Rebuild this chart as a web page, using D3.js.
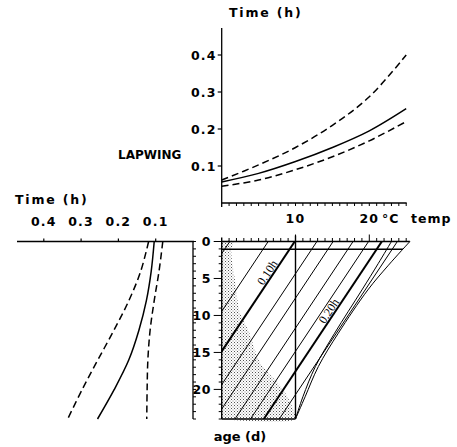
<!DOCTYPE html>
<html><head><meta charset="utf-8">
<script src="https://cdn.jsdelivr.net/npm/d3@7"></script>
<style>
html,body{margin:0;padding:0;background:#fff;}
svg{display:block;}
.lab{font-family:"DejaVu Sans",sans-serif;font-weight:bold;font-size:12.5px;fill:#000;}
.ser{font-family:"Liberation Serif",serif;font-size:12px;fill:#000;}
</style></head>
<body>
<svg id="c" width="457" height="447"></svg>
<script>
// ---- Data ----
// Upper panel: time (h) vs temperature (°C)
const topTemps = [0, 5, 10, 15, 20, 25];
const topUpper = [0.062, 0.103, 0.150, 0.210, 0.287, 0.400];
const topSolid = [0.057, 0.080, 0.112, 0.150, 0.195, 0.255];
const topLower = [0.045, 0.062, 0.090, 0.125, 0.168, 0.220];
const topYTicks = [0.1, 0.2, 0.3, 0.4];

// Left panel: time (h) vs age (d)
const leftAges  = [0, 4, 8, 12, 16, 20, 24];
const leftOuter = [0.119, 0.140, 0.172, 0.212, 0.255, 0.297, 0.336];
const leftSolid = [0.104, 0.112, 0.125, 0.145, 0.172, 0.211, 0.256];
const leftInner = [0.081, 0.091, 0.104, 0.115, 0.121, 0.123, 0.124];
const leftXTicks = [0.4, 0.3, 0.2, 0.1];
const ageTicks = [0, 5, 10, 15, 20];

// Nomogram: isolines of time, given by temperature where they meet age 0
const isoTemp0 = [1.1, 6.3, 9.9, 12.9, 15.1, 17.8, 19.9, 21.7, 23.8];
const isoTime  = [0.06, 0.08, 0.10, 0.12, 0.14, 0.16, 0.18, 0.20, 0.22];
const isoSlope = 1.5; // days of age per °C
const labelledIso = [0.10, 0.20];
// boundary curves [temp, age]
const outerCurve = [[25.5,0],[22.6,3.2],[19.8,6.55],[15.8,12.4],[13.1,16.9],[11.3,21.0],[10,24]];
const innerCurve = [[23.0,0],[21.2,3.0],[19.0,6.55],[15.3,12.4],[12.7,16.9],[11.0,21.0],[10,24]];
// stippled area [temp, age]
const stipple = [[0,0],[1.6,0],[1.3,1.1],[1.8,5.2],[2.5,9.7],[3.6,12],[5.2,16.4],[6.8,18.3],[8.3,20],[9.7,22.7],[10,24],[0,24]];

// ---- Scales ----
const svg = d3.select("#c");
const tempX = d3.scaleLinear().domain([0,25]).range([221.7,406.2]);
const timeY = d3.scaleLinear().domain([0,0.4]).range([203,55]);
const ageY  = d3.scaleLinear().domain([0,24]).range([241.5,419]);
const timeX = d3.scaleLinear().domain([0,0.4]).range([193,43.8]);

const stroke = (s,w)=>s.attr("stroke","#000").attr("stroke-width",w).attr("fill","none");

// ---- Upper panel ----
const up = svg.append("g");
stroke(up.append("line").attr("x1",tempX(0)).attr("x2",tempX(0)).attr("y1",28).attr("y2",timeY(0)+4),1.3);
stroke(up.append("line").attr("x1",tempX(0)).attr("x2",tempX(25)+0.5).attr("y1",timeY(0)).attr("y2",timeY(0)),1.3);
topYTicks.forEach(v=>{
  stroke(up.append("line").attr("x1",tempX(0)-4).attr("x2",tempX(0)).attr("y1",timeY(v)).attr("y2",timeY(v)),1.2);
  up.append("text").attr("class","lab").attr("x",tempX(0)-5).attr("y",timeY(v)+4.5)
    .attr("text-anchor","end").style("letter-spacing","1.2px").text(v.toFixed(1));
});
d3.range(1,26).forEach(t=>{
  stroke(up.append("line").attr("x1",tempX(t)).attr("x2",tempX(t)).attr("y1",timeY(0)).attr("y2",timeY(0)+3),1);
});
up.append("text").attr("class","lab").attr("x",tempX(10)).attr("y",223).attr("text-anchor","middle").style("letter-spacing","1.2px").text("10");
up.append("text").attr("class","lab").attr("x",tempX(20)).attr("y",223).attr("text-anchor","middle").style("letter-spacing","1.2px").text("20");
up.append("text").attr("class","lab").attr("x",382).attr("y",223).style("letter-spacing","1px").text("°C");
up.append("text").attr("class","lab").attr("x",411).attr("y",223).style("letter-spacing","1px").text("temp");
up.append("text").attr("class","lab").attr("x",229).attr("y",17).style("letter-spacing","1.8px").text("Time (h)");
up.append("text").attr("class","lab").attr("x",118).attr("y",159).style("font-size","12px").text("LAPWING");

const lineT = d3.line().x(d=>tempX(d[0])).y(d=>timeY(d[1])).curve(d3.curveCatmullRom);
[[topUpper,"7,4"],[topSolid,null],[topLower,"7,4"]].forEach(([arr,dash])=>{
  const p = stroke(up.append("path").attr("d",lineT(topTemps.map((t,i)=>[t,arr[i]]))),1.5);
  if(dash) p.attr("stroke-dasharray",dash);
});

// ---- Left panel ----
const lp = svg.append("g");
stroke(lp.append("line").attr("x1",17).attr("x2",timeX(0)+1).attr("y1",ageY(0)).attr("y2",ageY(0)),1.3);
leftXTicks.forEach(v=>{
  stroke(lp.append("line").attr("x1",timeX(v)).attr("x2",timeX(v)).attr("y1",ageY(0)-3).attr("y2",ageY(0)),1.2);
  lp.append("text").attr("class","lab").attr("x",timeX(v)).attr("y",226)
    .attr("text-anchor","middle").style("letter-spacing","1.2px").text(v.toFixed(1));
});
lp.append("text").attr("class","lab").attr("x",15).attr("y",204).style("letter-spacing","1.8px").text("Time (h)");
const lineA = d3.line().x(d=>timeX(d[1])).y(d=>ageY(d[0])).curve(d3.curveCatmullRom);
[[leftOuter,"7,4"],[leftSolid,null],[leftInner,"7,4"]].forEach(([arr,dash])=>{
  const p = stroke(lp.append("path").attr("d",lineA(leftAges.map((a,i)=>[a,arr[i]]))),1.5);
  if(dash) p.attr("stroke-dasharray",dash);
});

// ---- Age axis ----
const ax = svg.append("g");
stroke(ax.append("line").attr("x1",timeX(0)).attr("x2",timeX(0)).attr("y1",ageY(0)).attr("y2",ageY(24)),1.3);
d3.range(0,25).forEach(a=>{
  stroke(ax.append("line").attr("x1",timeX(0)).attr("x2",timeX(0)+3).attr("y1",ageY(a)).attr("y2",ageY(a)),1);
  const major = a%5===0;
  stroke(ax.append("line").attr("x1",tempX(0)-(major?8:3)).attr("x2",tempX(0)).attr("y1",ageY(a)).attr("y2",ageY(a)),1);
});
ageTicks.forEach(a=>{
  ax.append("text").attr("class","lab").attr("x",211).attr("y",ageY(a)+4.5)
    .attr("text-anchor","end").style("letter-spacing","0.5px").text(a);
});
ax.append("text").attr("class","lab").attr("x",240).attr("y",441).attr("text-anchor","middle").style("font-size","13px").text("age (d)");

// ---- Nomogram ----
const nm = svg.append("g");
const defs = svg.append("defs");
const pat = defs.append("pattern").attr("id","dots").attr("patternUnits","userSpaceOnUse").attr("width",3).attr("height",3);
pat.append("rect").attr("x",0).attr("y",0).attr("width",1).attr("height",1).attr("fill","#555");
pat.append("rect").attr("x",1.5).attr("y",1.5).attr("width",1).attr("height",1).attr("fill","#888");
const ptLine = d3.line().x(d=>tempX(d[0])).y(d=>ageY(d[1])).curve(d3.curveCatmullRom);
nm.append("path").attr("d",ptLine(stipple)+"Z").attr("fill","url(#dots)");

const curveL = d3.line().x(d=>tempX(d[0])).y(d=>ageY(d[1])).curve(d3.curveCatmullRom);
defs.append("clipPath").attr("id","nclip").append("path")
  .attr("d", "M"+tempX(0)+","+ageY(0)+curveL(outerCurve).replace(/^M/,"L")+"L"+tempX(0)+","+ageY(24)+"Z");

const iso = nm.append("g").attr("clip-path","url(#nclip)");
isoTemp0.forEach((t0,i)=>{
  const thick = labelledIso.some(v=>Math.abs(v-isoTime[i])<1e-6);
  stroke(iso.append("line").attr("x1",tempX(t0)).attr("y1",ageY(0))
    .attr("x2",tempX(t0-24/isoSlope)).attr("y2",ageY(24)),thick?2:1);
});
stroke(iso.append("line").attr("x1",tempX(0)).attr("x2",tempX(26)).attr("y1",ageY(1.05)).attr("y2",ageY(1.05)),1.3);
stroke(nm.append("path").attr("d",curveL(outerCurve)),1);
stroke(nm.append("path").attr("d",curveL(innerCurve)),1);
stroke(nm.append("line").attr("x1",tempX(0)).attr("x2",tempX(25.5)).attr("y1",ageY(0)).attr("y2",ageY(0)),1.4);
stroke(nm.append("line").attr("x1",tempX(0)).attr("x2",tempX(10)).attr("y1",ageY(24)).attr("y2",ageY(24)),1.4);
stroke(nm.append("line").attr("x1",tempX(10)).attr("x2",tempX(10)).attr("y1",ageY(0)-6).attr("y2",ageY(24)),1.4);
stroke(nm.append("line").attr("x1",tempX(0)).attr("x2",tempX(0)).attr("y1",ageY(0)-4).attr("y2",ageY(24)),1.4);
d3.range(1,26).forEach(t=>{
  const L = (t===10||t===20)?7:3.5;
  stroke(nm.append("line").attr("x1",tempX(t)).attr("x2",tempX(t)).attr("y1",ageY(0)-L).attr("y2",ageY(0)),1);
});
// labels on isolines
const ang = -Math.atan((ageY(isoSlope)-ageY(0))/(tempX(1)-tempX(0)))*180/Math.PI;
labelledIso.forEach(v=>{
  const i = isoTime.findIndex(x=>Math.abs(x-v)<1e-6);
  const t0 = isoTemp0[i];
  const a = (v<0.15)?4.6:9.8;
  const cx = tempX(t0 - a/isoSlope) - 5, cy = ageY(a) - 3;
  nm.append("text").attr("class","ser").attr("transform",`translate(${cx},${cy}) rotate(${ang})`)
    .attr("text-anchor","middle").attr("dy","0.35em").text(v.toFixed(2)+"h");
});
</script>
</body></html>
